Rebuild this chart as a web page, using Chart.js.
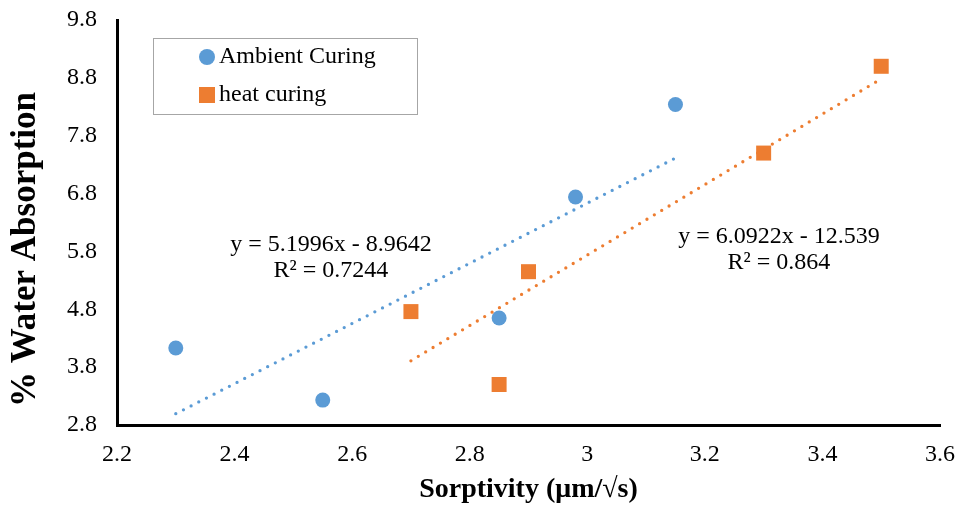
<!DOCTYPE html>
<html>
<head>
<meta charset="utf-8">
<script src="https://cdn.jsdelivr.net/npm/chart.js@4.4.1/dist/chart.umd.min.js"></script>
<style>
    html, body {margin: 0; padding: 0; background: #fff;}
</style>
</head>
<body>
<canvas id="myChart" width="960" height="511"></canvas>
<script>
const ambientX = [2.3, 2.55, 2.85, 2.98, 3.15];
const ambientY = [4.13, 3.23, 4.65, 6.74, 8.34];
const heatX = [2.7, 2.85, 2.9, 3.3, 3.5];
const heatY = [4.76, 3.5, 5.45, 7.5, 9.0];
const seriesNames = ['Ambient Curing', 'heat curing'];
const seriesColors = ['#5B9BD5', '#ED7D31'];
const trendSlope = [5.1996, 6.0922];
const trendIntercept = [-8.9642, -12.539];
const trendText = [['y = 5.1996x - 8.9642', 'R² = 0.7244'], ['y = 6.0922x - 12.539', 'R² = 0.864']];
const xTicks = [2.2, 2.4, 2.6, 2.8, 3, 3.2, 3.4, 3.6];
const yTicks = [2.8, 3.8, 4.8, 5.8, 6.8, 7.8, 8.8, 9.8];
const yTitle = '% Water Absorption';

const FONT = "'Liberation Serif', 'Times New Roman', serif";

function points(xs, ys) {
    return xs.map((x, i) => ({x: x, y: ys[i]}));
}

// trendline endpoints from the equation shown on the chart
function trend(xs, k) {
    const lo = Math.min(...xs), hi = Math.max(...xs);
    return [lo, hi].map(x => ({x: x, y: trendSlope[k] * x + trendIntercept[k]}));
}

// where the equation labels sit (value coordinates of the first line's centre)
const eqPos = [{x: 2.564, y: 5.91}, {x: 3.326, y: 6.06}];

const eqLabels = {
    id: 'eqLabels',
    afterDatasetsDraw(chart) {
        const c = chart.ctx, sx = chart.scales.x, sy = chart.scales.y;
        c.save();
        c.font = '24px ' + FONT;
        c.fillStyle = '#000';
        c.textAlign = 'center';
        c.textBaseline = 'middle';
        trendText.forEach((lines, k) => {
            const px = sx.getPixelForValue(eqPos[k].x), py = sy.getPixelForValue(eqPos[k].y);
            lines.forEach((t, j) => c.fillText(t, px, py + j * 26));
        });
        c.restore();
    }
};

// y title sits a bit below the axis middle in the original, so draw it by hand
const yTitleDraw = {
    id: 'yTitleDraw',
    afterDraw(chart) {
        const c = chart.ctx, a = chart.chartArea;
        c.save();
        c.translate(26, (a.top + a.bottom) / 2 + 27);
        c.rotate(-Math.PI / 2);
        c.font = 'bold 35px ' + FONT;
        c.fillStyle = '#000';
        c.textAlign = 'center';
        c.textBaseline = 'middle';
        c.fillText(yTitle, 0, 0);
        c.restore();
    }
};

const boxLegend = {
    id: 'boxLegend',
    afterDraw(chart) {
        const c = chart.ctx, a = chart.chartArea;
        const bx = a.left + 36, by = a.top + 18;
        c.save();
        c.strokeStyle = '#a6a6a6';
        c.lineWidth = 1;
        c.strokeRect(Math.round(bx) + 0.5, Math.round(by) + 0.5, 264, 76);
        c.font = '24px ' + FONT;
        c.textBaseline = 'middle';
        c.textAlign = 'left';
        seriesNames.forEach((name, i) => {
            const cy = by + 19 + i * 38, cx = bx + 54;
            c.fillStyle = seriesColors[i];
            if (i === 0) {
                c.beginPath();
                c.arc(cx, cy, 8, 0, Math.PI * 2);
                c.fill();
            } else {
                c.fillRect(cx - 8, cy - 8, 16, 16);
            }
            c.fillStyle = '#000';
            c.fillText(name, cx + 12, cy);
        });
        c.restore();
    }
};

const dotted = {
    showLine: true,
    pointRadius: 0,
    borderWidth: 3.3,
    borderDash: [0, 8.6],
    borderCapStyle: 'round',
    fill: false
};

new Chart(document.getElementById('myChart'), {
    type: 'scatter',
    data: {
        datasets: [
            {label: seriesNames[0], data: points(ambientX, ambientY), backgroundColor: seriesColors[0], borderColor: seriesColors[0], pointStyle: 'circle', pointRadius: 7.5, borderWidth: 0, order: 2},
            {label: seriesNames[1], data: points(heatX, heatY), backgroundColor: seriesColors[1], borderColor: seriesColors[1], pointStyle: 'rect', pointRadius: 10.6, borderWidth: 0, order: 2},
            Object.assign({label: 'trend1', data: trend(ambientX, 0), borderColor: seriesColors[0], order: 1}, dotted),
            Object.assign({label: 'trend2', data: trend(heatX, 1), borderColor: seriesColors[1], order: 1}, dotted)
        ]
    },
    options: {
        responsive: false,
        animation: false,
        layout: {padding: {top: 20, right: 20, left: 0, bottom: 0}},
        plugins: {legend: {display: false}, tooltip: {enabled: false}},
        scales: {
            x: {
                type: 'linear', min: 2.2, max: 3.6,
                afterBuildTicks: s => { s.ticks = xTicks.map(v => ({value: v})); },
                afterFit: s => { s.height = 86; s.paddingLeft = 0; s.paddingRight = 0; },
                grid: {display: false},
                border: {display: true, color: '#000', width: 3},
                ticks: {font: {family: FONT, size: 24}, color: '#000', padding: 7, maxRotation: 0, autoSkip: false,
                    callback: v => String(+v.toFixed(1))},
                title: {display: true, text: 'Sorptivity (μm/√s)', color: '#000', font: {family: FONT, size: 28, weight: 'bold'}, padding: {top: 0, bottom: 4}}
            },
            y: {
                type: 'linear', min: 2.8, max: 9.8,
                afterBuildTicks: s => { s.ticks = yTicks.map(v => ({value: v})); },
                afterFit: s => { s.width = 117; s.paddingTop = 0; s.paddingBottom = 0; },
                grid: {display: false},
                border: {display: true, color: '#000', width: 3},
                ticks: {font: {family: FONT, size: 24}, color: '#000', padding: 12, autoSkip: false,
                    callback: v => v.toFixed(1)},
                title: {display: false}
            }
        }
    },
    plugins: [eqLabels, boxLegend, yTitleDraw]
});
</script>
</body>
</html>
